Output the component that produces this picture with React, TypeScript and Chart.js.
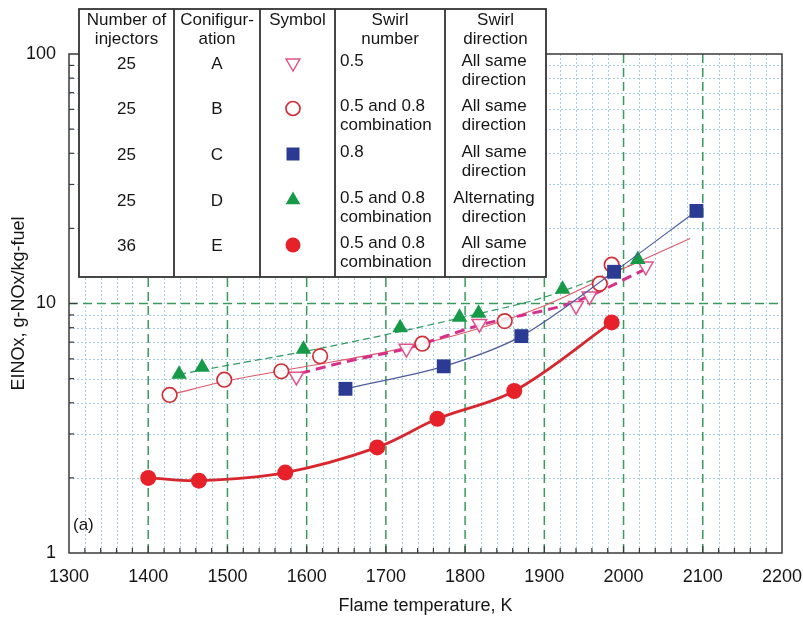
import React, { useEffect, useRef } from "react";
import { Chart, registerables } from "chart.js";

Chart.register(...registerables);

const FONT = "'Liberation Sans', Arial, Helvetica, sans-serif";

// ---- Axes ----
const xMin = 1300;
const xMax = 2200;
const yMin = 1;
const yMax = 100;
const xTickLabels = [1300, 1400, 1500, 1600, 1700, 1800, 1900, 2000, 2100, 2200];
const yTickLabels = [1, 10, 100];
const xMajorGrid = [1400, 1500, 1600, 1700, 1800, 1900, 2000, 2100];
const yMajorGrid = [10];
const yMinorGrid = [2, 3, 4, 5, 6, 7, 8, 9, 20, 30, 40, 50, 60, 70, 80, 90];
const xMinorStep = 20;

// ---- Series A: 25 injectors, swirl 0.5 ----
const tempA = [1587, 1726, 1818, 1940, 1957, 2028];
const noxA = [5.1, 6.6, 8.3, 9.8, 10.7, 14.1];
const fitTempA = [1592, 1655, 1726, 1819, 1940, 2025];
const fitNoxA = [5.25, 5.9, 6.6, 8.2, 10.2, 13.6];

// ---- Series B: 25 injectors, 0.5 and 0.8 combination ----
const tempB = [1427, 1496, 1568, 1617, 1746, 1850, 1970, 1985];
const noxB = [4.3, 4.95, 5.35, 6.15, 6.9, 8.5, 12.0, 14.3];
const fitTempB = [1427, 1500, 1600, 1700, 1800, 1900, 2000, 2084];
const fitNoxB = [4.3, 4.9, 5.6, 6.4, 7.65, 9.8, 13.8, 18.2];

// ---- Series C: 25 injectors, swirl 0.8 ----
const tempC = [1649, 1773, 1871, 1988, 2092];
const noxC = [4.55, 5.6, 7.4, 13.4, 23.5];

// ---- Series D: 25 injectors, alternating ----
const tempD = [1439, 1468, 1596, 1718, 1793, 1817, 1923, 2018];
const noxD = [5.2, 5.55, 6.55, 8.0, 8.8, 9.15, 11.4, 15.0];
const fitTempD = [1439, 1500, 1600, 1700, 1800, 1900, 2018];
const fitNoxD = [5.2, 5.65, 6.45, 7.5, 8.85, 10.6, 14.6];

// ---- Series E: 36 injectors ----
const tempE = [1400, 1464, 1573, 1689, 1765, 1862, 1985];
const noxE = [2.0, 1.95, 2.1, 2.65, 3.45, 4.46, 8.4];

// ---- Table ----
const tableHeader = [
  ["Number of", "injectors"],
  ["Conifigur-", "ation"],
  ["Symbol"],
  ["Swirl", "number"],
  ["Swirl", "direction"],
];
const rowInjectors = ["25", "25", "25", "25", "36"];
const rowConfig = ["A", "B", "C", "D", "E"];
const rowSymbol = ["invTriangle", "openCircle", "square", "triangle", "filledCircle"];
const rowSwirl = [
  ["0.5"],
  ["0.5 and 0.8", "combination"],
  ["0.8"],
  ["0.5 and 0.8", "combination"],
  ["0.5 and 0.8", "combination"],
];
const rowDirection = [
  ["All same", "direction"],
  ["All same", "direction"],
  ["All same", "direction"],
  ["Alternating", "direction"],
  ["All same", "direction"],
];

const COL = {
  A: "#e0548c",
  Aline: "#d6318a",
  B: "#cf3038",
  Bline: "#e05a6a",
  C: "#2b3a92",
  Cline: "#4d5c9e",
  D: "#169a48",
  Dline: "#2f9a62",
  E: "#e6212a",
  Eline: "#d8262e",
};
const TEXT = "#161616";

const toPts = (xs: number[], ys: number[]) => xs.map((x, i) => ({ x, y: ys[i] }));

function drawMarker(ctx: CanvasRenderingContext2D, kind: string, x: number, y: number) {
  ctx.save();
  ctx.setLineDash([]);
  if (kind === "invTriangle") {
    const r = 8;
    ctx.beginPath();
    ctx.moveTo(x, y + r);
    ctx.lineTo(x - r * 0.866, y - r / 2);
    ctx.lineTo(x + r * 0.866, y - r / 2);
    ctx.closePath();
    ctx.fillStyle = "#fff";
    ctx.fill();
    ctx.strokeStyle = COL.A;
    ctx.lineWidth = 1.5;
    ctx.stroke();
  } else if (kind === "openCircle") {
    ctx.beginPath();
    ctx.arc(x, y, 7, 0, Math.PI * 2);
    ctx.fillStyle = "#fff";
    ctx.fill();
    ctx.strokeStyle = COL.B;
    ctx.lineWidth = 1.7;
    ctx.stroke();
  } else if (kind === "square") {
    ctx.fillStyle = COL.C;
    ctx.fillRect(x - 6.5, y - 6.5, 13, 13);
  } else if (kind === "triangle") {
    const r = 8.5;
    ctx.beginPath();
    ctx.moveTo(x, y - r);
    ctx.lineTo(x - r * 0.866, y + r / 2);
    ctx.lineTo(x + r * 0.866, y + r / 2);
    ctx.closePath();
    ctx.fillStyle = COL.D;
    ctx.fill();
  } else {
    ctx.beginPath();
    ctx.arc(x, y, 7.5, 0, Math.PI * 2);
    ctx.fillStyle = COL.E;
    ctx.fill();
  }
  ctx.restore();
}

const gridPlugin = {
  id: "paperGrid",
  beforeDatasetsDraw(chart: any) {
    const { ctx, chartArea, scales } = chart;
    const { left, right, top, bottom } = chartArea;
    const x = scales.x;
    const y = scales.y;
    ctx.save();
    // minor dotted grid
    ctx.strokeStyle = "#a6cde0";
    ctx.lineWidth = 1;
    ctx.setLineDash([2, 2]);
    for (let t = xMin + xMinorStep; t < xMax; t += xMinorStep) {
      if (t % 100 === 0) continue;
      const px = Math.round(x.getPixelForValue(t)) + 0.5;
      ctx.beginPath();
      ctx.moveTo(px, top);
      ctx.lineTo(px, bottom);
      ctx.stroke();
    }
    for (const v of yMinorGrid) {
      const py = Math.round(y.getPixelForValue(v)) + 0.5;
      ctx.beginPath();
      ctx.moveTo(left, py);
      ctx.lineTo(right, py);
      ctx.stroke();
    }
    // major dashed grid
    ctx.strokeStyle = "#3a9a5e";
    ctx.lineWidth = 1.5;
    ctx.setLineDash([9, 5]);
    for (const t of xMajorGrid) {
      const px = x.getPixelForValue(t);
      ctx.beginPath();
      ctx.moveTo(px, top);
      ctx.lineTo(px, bottom);
      ctx.stroke();
    }
    for (const v of yMajorGrid) {
      const py = y.getPixelForValue(v);
      ctx.beginPath();
      ctx.moveTo(left, py);
      ctx.lineTo(right, py);
      ctx.stroke();
    }
    // frame
    ctx.setLineDash([]);
    ctx.strokeStyle = "#3a3a3a";
    ctx.lineWidth = 1.5;
    ctx.strokeRect(left, top, right - left, bottom - top);
    // inward ticks
    ctx.lineWidth = 1.2;
    for (let t = xMin + xMinorStep; t < xMax; t += xMinorStep) {
      const px = x.getPixelForValue(t);
      const len = t % 100 === 0 ? 7 : 5;
      ctx.beginPath();
      ctx.moveTo(px, bottom);
      ctx.lineTo(px, bottom - len);
      ctx.stroke();
    }
    for (const v of [...yMinorGrid, ...yMajorGrid]) {
      const py = y.getPixelForValue(v);
      const len = v === 10 ? 8 : 5;
      ctx.beginPath();
      ctx.moveTo(left, py);
      ctx.lineTo(left + len, py);
      ctx.stroke();
    }
    ctx.restore();
  },
  afterDraw(chart: any) {
    const { ctx, chartArea } = chart;
    ctx.save();
    // panel label
    ctx.fillStyle = TEXT;
    ctx.font = `17px ${FONT}`;
    ctx.textBaseline = "middle";
    ctx.textAlign = "left";
    ctx.fillText("(a)", chartArea.left + 4, chartArea.bottom - 28);

    // table
    const tL = 79, tT = 9, tR = 546, tB = 277;
    const cols = [tL, 174, 260, 335, 445, tR];
    ctx.fillStyle = "#fff";
    ctx.fillRect(tL, tT, tR - tL, tB - tT);
    ctx.strokeStyle = "#333";
    ctx.lineWidth = 1.8;
    ctx.strokeRect(tL, tT, tR - tL, tB - tT);
    for (let i = 1; i < cols.length - 1; i++) {
      ctx.beginPath();
      ctx.moveTo(cols[i], tT);
      ctx.lineTo(cols[i], tB);
      ctx.stroke();
    }
    ctx.fillStyle = TEXT;
    ctx.font = `17px ${FONT}`;
    ctx.textBaseline = "middle";
    const centers = cols.slice(0, -1).map((c, i) => (c + cols[i + 1]) / 2);
    const lh = 19;
    // header
    tableHeader.forEach((lines, ci) => {
      ctx.textAlign = "center";
      lines.forEach((s, li) => ctx.fillText(s, centers[ci], 20 + li * lh));
    });
    const rowY = [61, 106.5, 152, 198, 243];
    rowY.forEach((ry, ri) => {
      ctx.textAlign = "center";
      ctx.fillText(rowInjectors[ri], centers[0], ry + 3);
      ctx.fillText(rowConfig[ri], centers[1], ry + 3);
      drawMarker(ctx, rowSymbol[ri], 293, ry + 2);
      ctx.textAlign = "left";
      rowSwirl[ri].forEach((s, li) => ctx.fillText(s, 340, ry + li * lh));
      ctx.textAlign = "center";
      rowDirection[ri].forEach((s, li) => ctx.fillText(s, 494, ry + li * lh));
    });
    ctx.restore();
  },
};

export default function App() {
  const canvasRef = useRef<HTMLCanvasElement | null>(null);

  useEffect(() => {
    const canvas = canvasRef.current;
    if (!canvas) return;

    const chart = new Chart(canvas, {
      type: "scatter",
      data: {
        datasets: [
          {
            label: "E",
            data: toPts(tempE, noxE),
            showLine: true,
            borderColor: COL.Eline,
            borderWidth: 2.8,
            tension: 0.35,
            pointStyle: "circle",
            pointRadius: 8,
            pointBorderWidth: 0,
            pointBackgroundColor: COL.E,
            pointBorderColor: COL.E,
          },
          {
            label: "C",
            data: toPts(tempC, noxC),
            showLine: true,
            borderColor: COL.Cline,
            borderWidth: 1.2,
            tension: 0.3,
            pointStyle: "rect",
            pointRadius: 9.8,
            pointBorderWidth: 0,
            pointBackgroundColor: COL.C,
            pointBorderColor: COL.C,
          },
          {
            label: "D",
            data: toPts(tempD, noxD),
            showLine: false,
            pointStyle: "triangle",
            pointRadius: 9,
            pointBorderWidth: 0,
            pointBackgroundColor: COL.D,
            pointBorderColor: COL.D,
          },
          {
            label: "B",
            data: toPts(tempB, noxB),
            showLine: false,
            pointStyle: "circle",
            pointRadius: 7.3,
            pointBorderWidth: 1.7,
            pointBackgroundColor: "rgba(255,255,255,0.85)",
            pointBorderColor: COL.B,
          },
          {
            label: "A",
            data: toPts(tempA, noxA),
            showLine: false,
            pointStyle: "triangle",
            pointRotation: 180,
            pointRadius: 8.5,
            pointBorderWidth: 1.5,
            pointBackgroundColor: "rgba(255,255,255,0.85)",
            pointBorderColor: COL.A,
          },
          {
            label: "A fit",
            data: toPts(fitTempA, fitNoxA),
            showLine: true,
            borderColor: COL.Aline,
            borderWidth: 3,
            borderDash: [10, 6],
            cubicInterpolationMode: "monotone",
            pointRadius: 0,
          },
          {
            label: "B fit",
            data: toPts(fitTempB, fitNoxB),
            showLine: true,
            borderColor: COL.Bline,
            borderWidth: 1.1,
            cubicInterpolationMode: "monotone",
            pointRadius: 0,
          },
          {
            label: "D fit",
            data: toPts(fitTempD, fitNoxD),
            showLine: true,
            borderColor: COL.Dline,
            borderWidth: 1.2,
            borderDash: [7, 4],
            cubicInterpolationMode: "monotone",
            pointRadius: 0,
          },
        ],
      },
      options: {
        animation: false,
        responsive: true,
        maintainAspectRatio: false,
        devicePixelRatio: 1,
        layout: { padding: { left: 8, right: 21, top: 54, bottom: 4 } },
        plugins: {
          legend: { display: false },
          tooltip: { enabled: false },
        },
        events: [],
        scales: {
          x: {
            type: "linear",
            min: xMin,
            max: xMax,
            afterFit: (s: any) => {
              s.height = 64;
              s.paddingLeft = 0;
              s.paddingRight = 0;
            },
            afterBuildTicks: (s: any) => {
              s.ticks = xTickLabels.map((v) => ({ value: v }));
            },
            grid: { display: false, drawTicks: false },
            border: { display: false },
            ticks: {
              autoSkip: false,
              maxRotation: 0,
              padding: 13,
              color: TEXT,
              font: { family: FONT, size: 18 },
              callback: (v: any) => String(v),
            },
            title: {
              display: true,
              text: "Flame temperature, K",
              color: TEXT,
              font: { family: FONT, size: 18 },
              padding: 0,
            },
          },
          y: {
            type: "logarithmic",
            min: yMin,
            max: yMax,
            afterFit: (s: any) => {
              s.width = 61;
              s.paddingTop = 0;
              s.paddingBottom = 0;
            },
            afterBuildTicks: (s: any) => {
              s.ticks = yTickLabels.map((v) => ({ value: v }));
            },
            grid: { display: false, drawTicks: false },
            border: { display: false },
            ticks: {
              autoSkip: false,
              padding: 13,
              color: TEXT,
              font: { family: FONT, size: 18 },
              callback: (v: any) => String(v),
            },
            title: {
              display: true,
              text: "EINOx, g-NOx/kg-fuel",
              color: TEXT,
              font: { family: FONT, size: 18 },
              padding: 0,
            },
          },
        },
      },
      plugins: [gridPlugin],
    } as any);

    return () => chart.destroy();
  }, []);

  return (
    <div style={{ position: "absolute", left: 0, top: 0, width: 803, height: 621, background: "#fff" }}>
      <canvas ref={canvasRef} />
    </div>
  );
}
